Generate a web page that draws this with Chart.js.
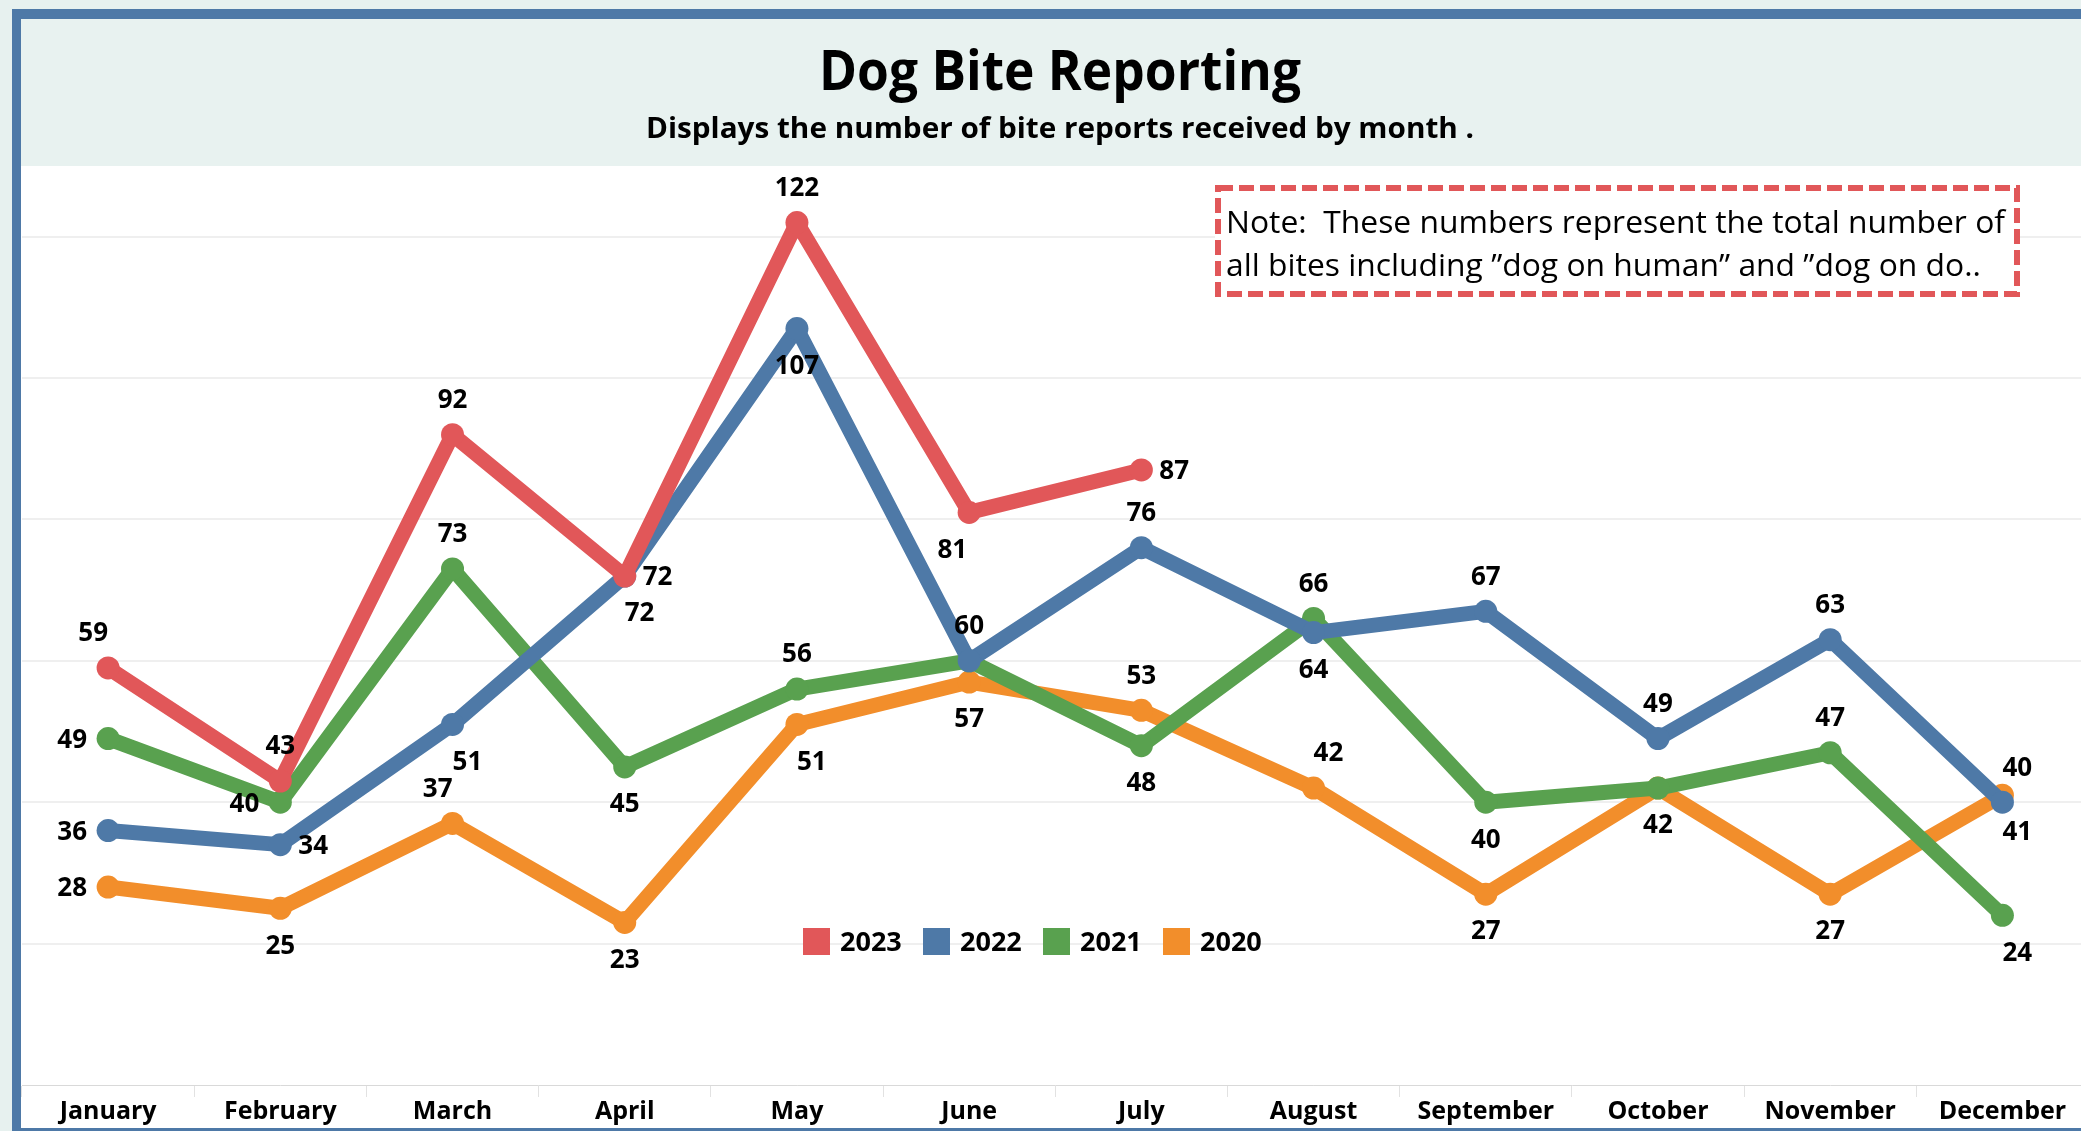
<!DOCTYPE html>
<html><head><meta charset="utf-8">
<script src="https://cdn.jsdelivr.net/npm/chart.js@4.4.1/dist/chart.umd.min.js"></script>
<style>
html,body{margin:0;padding:0;overflow:hidden;background:#fff;width:2081px;height:1131px;}
#wrap{position:absolute;left:0;top:0;width:2081px;height:1131px;overflow:hidden;}
canvas{display:block;}
</style></head><body>
<div id="wrap"><canvas id="c" width="2100" height="1131"></canvas></div>
<script>
// ---- data ----
const months = ['January','February','March','April','May','June','July','August','September','October','November','December'];
const years = ['2023','2022','2021','2020'];
const v2023 = [59,43,92,72,122,81,87,null,null,null,null,null];
const v2022 = [36,34,51,72,107,60,76,64,67,49,63,40];
const v2021 = [49,40,73,45,56,60,48,66,40,42,47,24];
const v2020 = [28,25,37,23,51,57,53,42,27,42,27,41];
const yTicks = [20,40,60,80,100,120];
const titleText = 'Dog Bite Reporting';
const subtitleText = 'Displays the number of bite reports received by month .';
const noteLines = ['Note:  These numbers represent the total number of', 'all bites including \u201Ddog on human\u201D and \u201Ddog on do..'];

// label placement (a=above, b=below, l=left, r=right, al/ar/bl/br = above/below aligned to point; null = hidden)
const place2023 = ['al','a','a','r','a','bl','r',null,null,null,null,null];
const place2022 = ['l','r','br','br','b','a','a','b','a','a','a','ar'];
const place2021 = ['l','l','a','b','a',null,'b','a','b','b','a','br'];
const place2020 = ['l','b','al','b','br','b','a','ar','b',null,'b','br'];

const colors = ['#e15759','#4e79a7','#59a14f','#f28e2b'];
const series = [v2023, v2022, v2021, v2020];
const places = [place2023, place2022, place2021, place2020];

const FONT = '"Open Sans", "DejaVu Sans", sans-serif';

function fitText(c, text, x, y, font, targetW, align, scaleOverride) {
  c.font = font;
  const w = c.measureText(text).width;
  const s = scaleOverride || (targetW / w);
  c.save();
  c.translate(x, y);
  c.scale(s, 1);
  c.textAlign = align;
  c.textBaseline = 'alphabetic';
  c.fillText(text, 0, 0);
  c.restore();
  return s;
}

const decor = {
  id: 'decor',
  beforeDraw(chart) {
    const c = chart.ctx, W = chart.width, H = chart.height;
    c.save();
    c.fillStyle = '#ffffff'; c.fillRect(0, 0, W, H);
    c.fillStyle = '#e7f1ef'; c.fillRect(0, 0, W, 9); c.fillRect(0, 0, 12, H);
    c.fillStyle = '#e8f2f0'; c.fillRect(21, 19, W - 21, 147);
    c.fillStyle = '#4e79a7';
    c.fillRect(12, 9, W - 12, 10);
    c.fillRect(12, 9, 9, H - 9);
    c.fillRect(12, 1128, W - 12, 5);
    // title & subtitle
    c.fillStyle = '#000000';
    fitText(c, titleText, 1060, 90, 'bold 55px ' + FONT, 482, 'center');
    fitText(c, subtitleText, 1060, 138, 'bold 28px ' + FONT, 828, 'center');
    c.restore();
  },
  afterDatasetsDraw(chart) {
    const c = chart.ctx;
    c.save();
    c.fillStyle = '#000000';
    const fs = 26;
    c.font = 'bold ' + fs + 'px ' + FONT;
    c.textBaseline = 'alphabetic';
    const capHalf = fs * 0.357;
    const off = 36;
    series.forEach((vals, d) => {
      const meta = chart.getDatasetMeta(d);
      vals.forEach((v, i) => {
        const p = places[d][i];
        if (v === null || !p) return;
        const pt = meta.data[i];
        let x = pt.x, y = pt.y, align = 'center';
        if (p === 'a') { y -= off; }
        else if (p === 'b') { y += off; }
        else if (p === 'l') { x -= 21; align = 'right'; }
        else if (p === 'r') { x += 18; align = 'left'; }
        else if (p === 'al') { y -= off; align = 'right'; }
        else if (p === 'ar') { y -= off; align = 'left'; }
        else if (p === 'bl') { y += off; align = 'right'; x -= 2; }
        else if (p === 'br') { y += off; align = 'left'; }
        c.textAlign = align;
        c.fillText(String(v), x, y + capHalf);
      });
    });
    c.restore();
  },
  afterDraw(chart) {
    const c = chart.ctx;
    c.save();
    // legend
    c.font = 'bold 27px ' + FONT;
    c.textBaseline = 'alphabetic';
    c.textAlign = 'left';
    chart.data.datasets.forEach((ds, i) => {
      const x0 = 803 + i * 120;
      c.fillStyle = ds.borderColor;
      c.fillRect(x0, 928, 27, 27);
      c.fillStyle = '#000000';
      c.fillText(ds.label, x0 + 37, 951);
    });
    // note box
    c.fillStyle = '#ffffff';
    c.fillRect(1215, 185, 805, 112);
    c.strokeStyle = '#e15759';
    c.lineWidth = 6;
    c.setLineDash([15, 6]);
    c.strokeRect(1218, 188, 799, 106);
    c.setLineDash([]);
    c.fillStyle = '#000000';
    const s = fitText(c, noteLines[0], 1226, 233, '31px ' + FONT, 779, 'left');
    fitText(c, noteLines[1], 1226, 276, '31px ' + FONT, 0, 'left', s);
    c.restore();
  }
};

const ctx = document.getElementById('c').getContext('2d');
new Chart(ctx, {
  type: 'line',
  data: {
    labels: months,
    datasets: years.map((y, i) => ({
      label: y,
      data: series[i],
      borderColor: colors[i],
      backgroundColor: colors[i],
      borderWidth: 15,
      pointRadius: 11.5,
      pointBorderWidth: 0,
      pointHoverRadius: 11.5,
      pointBackgroundColor: colors[i],
      borderJoinStyle: 'round',
      borderCapStyle: 'round',
      tension: 0,
      spanGaps: false
    }))
  },
  options: {
    responsive: false,
    animation: false,
    events: [],
    layout: { padding: { left: 22, right: 0, top: 166, bottom: 0 } },
    plugins: { legend: { display: false }, tooltip: { enabled: false }, title: { display: false } },
    scales: {
      x: {
        type: 'category',
        offset: true,
        grid: { display: true, drawOnChartArea: false, drawTicks: true, tickLength: 12, color: '#e2e2e2', lineWidth: 1, offset: true },
        border: { display: true, color: '#d9d9d9', dash: [2, 2], width: 1 },
        ticks: { autoSkip: false, maxRotation: 0, minRotation: 0, padding: 0, color: '#000000', font: { family: FONT, weight: 'bold', size: 25 } },
        afterFit(s) { s.height = 46; }
      },
      y: {
        min: 0, max: 130,
        afterBuildTicks(s) { s.ticks = yTicks.map(v => ({ value: v })); },
        ticks: { display: false },
        grid: { color: '#efefef', lineWidth: 2, drawTicks: false },
        border: { display: false },
        afterFit(s) { s.width = 0; }
      }
    }
  },
  plugins: [decor]
});
</script>
</body></html>
